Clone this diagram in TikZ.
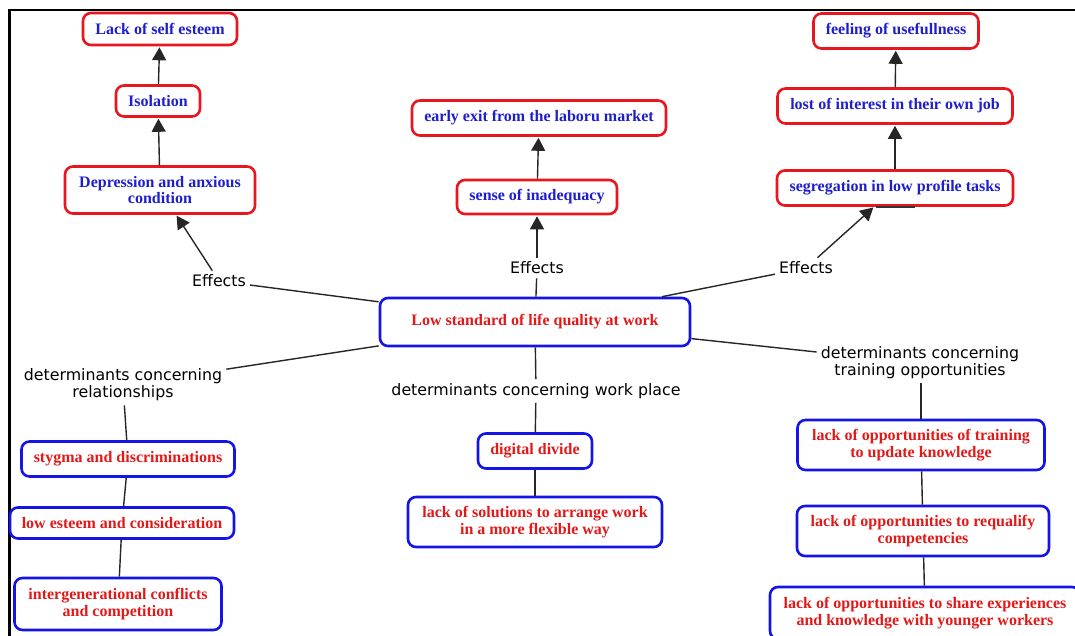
\documentclass[tikz,border=0pt]{standalone}
\usepackage{fontspec}
\setmainfont{Liberation Serif}
\newfontfamily\labfont{DejaVu Sans}
\usetikzlibrary{arrows.meta}
\definecolor{redline}{RGB}{232,22,30}
\definecolor{bluetext}{RGB}{30,30,205}
\definecolor{blueline}{RGB}{20,20,230}
\definecolor{redtext}{RGB}{225,25,25}
\begin{document}
\begin{tikzpicture}[x=1pt,y=-1pt,
 box/.style={draw, rounded corners=8pt, line width=2.6pt, fill=white, align=center,
   font=\fontsize{16}{16.5}\selectfont\bfseries, inner sep=0pt},
 ebox/.style={box, draw=redline, text=bluetext},
 dbox/.style={box, draw=blueline, text=redtext},
 lab/.style={align=center, font=\labfont\fontsize{15.8}{17}\selectfont, inner sep=4pt},
 conn/.style={line width=1.4pt, draw=black!85},
 arr/.style={conn, -{Triangle[width=14pt,length=13pt]}, shorten >=1pt}]
\useasboundingbox (0,0) rectangle (1075,636);
\clip (0,0) rectangle (1075,636);
% frame
\draw[line width=2.4pt] (9.5,640) -- (9.5,10.3) -- (1080,10.3);
% effects boxes (left)
\node[ebox, minimum width=154, minimum height=32] (lse) at (160,29) {Lack of self esteem};
\node[ebox, minimum width=84, minimum height=31] (iso) at (158,101) {Isolation};
\node[ebox, minimum width=190, minimum height=47] (dep) at (160,190) {Depression and anxious\\condition};
% effects boxes (middle)
\node[ebox, minimum width=254, minimum height=35] (exit) at (539,118) {early exit from the laboru market};
\node[ebox, minimum width=160, minimum height=34] (inad) at (537,197) {sense of inadequacy};
% effects boxes (right)
\node[ebox, minimum width=165, minimum height=35] (use) at (896,31) {feeling of usefullness};
\node[ebox, minimum width=235, minimum height=35] (lost) at (895,106) {lost of interest in their own job};
\node[ebox, minimum width=236, minimum height=35] (seg) at (895,188) {segregation in low profile tasks};
% central
\node[dbox, minimum width=310, minimum height=48] (core) at (535,322) {Low standard of life quality at work};
% determinant boxes
\node[dbox, minimum width=213, minimum height=35] (sty) at (128,459) {stygma and discriminations};
\node[dbox, minimum width=224, minimum height=31] (lowe) at (122,523) {low esteem and consideration};
\node[dbox, minimum width=207, minimum height=52] (inter) at (118,604) {intergenerational conflicts\\and competition};
\node[dbox, minimum width=114, minimum height=35] (dig) at (535,451) {digital divide};
\node[dbox, minimum width=254, minimum height=50] (flex) at (535,522) {lack of solutions to arrange work\\in a more flexible way};
\node[dbox, minimum width=247, minimum height=50] (upd) at (921,445) {lack of opportunities of training\\to update knowledge};
\node[dbox, minimum width=252, minimum height=50] (req) at (923,531) {lack of opportunities to requalify\\competencies};
\node[dbox, minimum width=310, minimum height=52] (share) at (925,613) {lack of opportunities to share experiences\\and knowledge with younger workers};
% labels
\node[lab] (effL) at (219,281) {Effects};
\node[lab] (effM) at (537,268) {Effects};
\node[lab] (effR) at (806,268) {Effects};
\node[lab] (detR) at (123,385) {determinants concerning\\relationships};
\node[lab] (detW) at (536,391) {determinants concerning work place};
\node[lab] (detT) at (920,363) {determinants concerning\\training opportunities};
% connectors from central node
\draw[conn] (core) -- (effL);
\draw[conn] (core) -- (effM);
\draw[conn] (core) -- (effR);
\draw[conn] (core) -- (detR);
\draw[conn] (core) -- (detW);
\draw[conn] (core) -- (detT);
% effects arrows
\draw[arr] (effL) -- (dep);
\draw[arr] (dep) -- (iso);
\draw[arr] (iso) -- (lse);
\draw[arr] (effM) -- (inad);
\draw[arr] (inad) -- (exit);
\draw[arr] (effR) -- (seg);
\draw[arr] (seg) -- (lost);
\draw[arr] (lost) -- (use);
\draw[line width=1.5pt, draw=black!80] ([xshift=-19pt]seg.south) -- ([xshift=20pt]seg.south);
% determinant lines
\draw[conn] (detR) -- (sty);
\draw[conn] (sty) -- (lowe);
\draw[conn] (lowe) -- (inter);
\draw[conn] (detW) -- (dig);
\draw[conn] (dig) -- (flex);
\draw[conn] (detT.south -| upd.north) -- (upd);
\draw[conn] (upd) -- (req);
\draw[conn] (req) -- (share);
\end{tikzpicture}
\end{document}
